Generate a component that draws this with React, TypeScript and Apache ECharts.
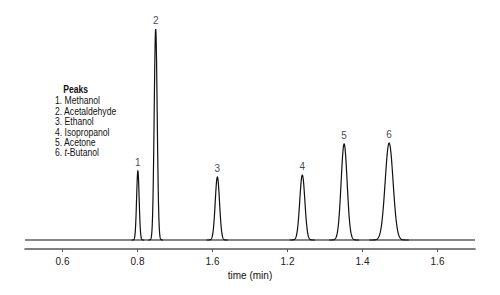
import React, { useEffect, useRef } from "react";
import * as echarts from "echarts";

// Peak data
const peakNumbers = ["1", "2", "3", "4", "5", "6"];
const peakTimes = [0.801, 0.8485, 1.013, 1.2395, 1.351, 1.471]; // min
const peakHeights = [69, 211, 63, 65, 96, 97]; // arbitrary detector units
const peakSigmas = [0.0034, 0.004, 0.0057, 0.0068, 0.008, 0.0105]; // min

const peakNames = ["Methanol", "Acetaldehyde", "Ethanol", "Isopropanol", "Acetone", "t-Butanol"];

const tickValues = [0.6, 0.8, 1.0, 1.2, 1.4, 1.6];
const tickLabels = ["0.6", "0.8", "1.6", "1.2", "1.4", "1.6"];

const xMin = 0.5;
const xMax = 1.7;

const FONT = "'Liberation Sans Narrow', 'Liberation Sans', Arial, sans-serif";

export default function App() {
  const ref = useRef<HTMLDivElement>(null);

  useEffect(() => {
    if (!ref.current) return;
    const chart = echarts.init(ref.current, null, { renderer: "svg" });

    const peakData = peakTimes.map((t, i) => [t, peakHeights[i], peakSigmas[i]]);
    const labelData = peakTimes.map((t, i) => ({ value: [t, peakHeights[i]], name: peakNumbers[i] }));

    const legendChildren: any[] = [
      {
        type: "text",
        x: 10,
        y: 0,
        style: { text: "Peaks", font: `bold 10.5px ${FONT}`, fill: "#111" },
      },
    ];
    peakNames.forEach((name, i) => {
      const isT = name.startsWith("t-");
      legendChildren.push({
        type: "text",
        x: 0,
        y: 11 + i * 10.4,
        style: {
          text: isT ? `${i + 1}. {i|t}-${name.slice(2)}` : `${i + 1}. ${name}`,
          font: `10.5px ${FONT}`,
          fill: "#111",
          rich: {
            i: { fontStyle: "italic", fontSize: 10.5, fontFamily: FONT, fill: "#111" },
          },
        },
      });
    });

    chart.setOption({
      animation: false,
      backgroundColor: "#fff",
      grid: { left: 25, right: 25, top: 10, bottom: 46, containLabel: false },
      xAxis: {
        type: "value",
        min: xMin,
        max: xMax,
        name: "time (min)",
        nameLocation: "middle",
        nameGap: 20,
        nameTextStyle: { fontFamily: FONT, fontSize: 10, color: "#111" },
        axisLine: { show: true, onZero: false, lineStyle: { color: "#555", width: 1.6 } },
        axisTick: {
          show: true,
          length: 3,
          customValues: tickValues,
          lineStyle: { color: "#555", width: 1 },
        },
        axisLabel: {
          customValues: tickValues,
          fontFamily: FONT,
          fontSize: 10,
          color: "#222",
          margin: 7,
          formatter: (v: number) => {
            const idx = tickValues.findIndex((tv) => Math.abs(tv - v) < 1e-6);
            return idx >= 0 ? tickLabels[idx] : "";
          },
        },
        splitLine: { show: false },
      },
      yAxis: {
        type: "value",
        min: -9,
        max: 230,
        show: false,
        splitLine: { show: false },
      },
      graphic: [
        {
          type: "group",
          x: 55,
          y: 84,
          scaleX: 0.82,
          children: legendChildren,
        },
      ],
      series: [
        {
          type: "line",
          data: [
            [xMin, 0],
            [xMax, 0],
          ],
          symbol: "none",
          lineStyle: { color: "#111", width: 1.2 },
          silent: true,
        },
        {
          type: "custom",
          data: peakData,
          silent: true,
          renderItem: (params: any, api: any) => {
            const t = api.value(0);
            const h = api.value(1);
            const s = api.value(2);
            const pts: number[][] = [];
            const steps = 120;
            for (let k = 0; k <= steps; k++) {
              const x = t - 5 * s + (10 * s * k) / steps;
              const y = h * Math.exp(-0.5 * ((x - t) / s) ** 2);
              pts.push(api.coord([x, y]));
            }
            return {
              type: "polyline",
              shape: { points: pts },
              style: { stroke: "#111", lineWidth: 1.2, fill: "none" },
            };
          },
        },
        {
          type: "scatter",
          data: labelData,
          symbolSize: 0,
          silent: true,
          itemStyle: { color: "transparent" },
          label: {
            show: true,
            position: "top",
            distance: 4,
            formatter: (p: any) => p.name,
            fontFamily: FONT,
            fontSize: 10,
            color: "#111",
          },
        },
      ],
    });

    return () => chart.dispose();
  }, []);

  return <div ref={ref} style={{ width: 500, height: 295, position: "absolute", left: 0, top: 0 }} />;
}
